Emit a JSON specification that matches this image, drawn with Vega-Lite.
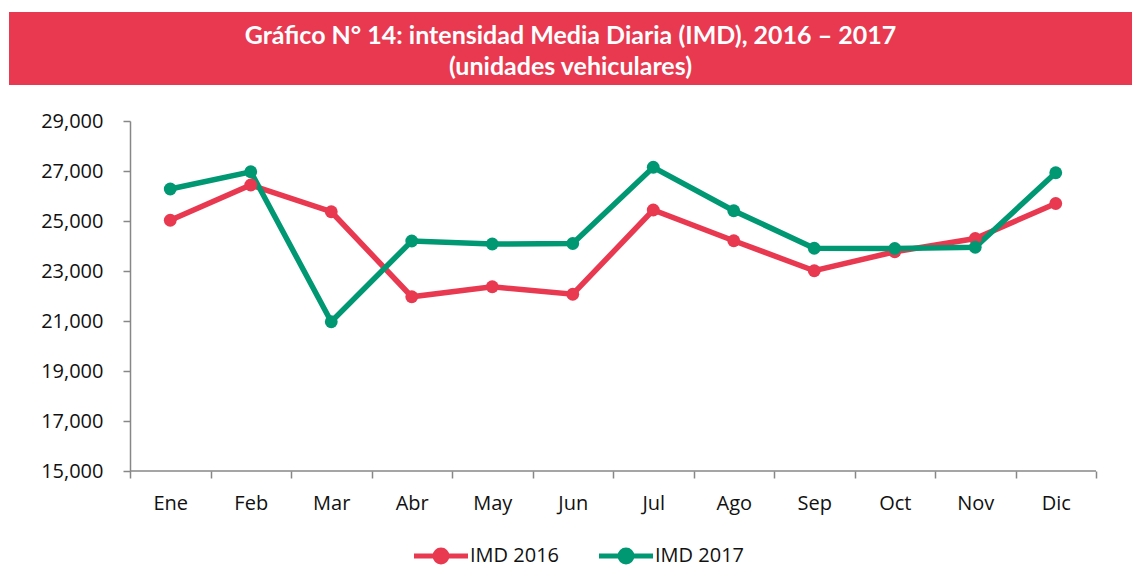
{
  "$schema": "https://vega.github.io/schema/vega-lite/v6.json",
  "padding": {"left": 9, "top": 12, "right": 0, "bottom": 0},
  "background": "white",
  "columns": 1,
  "align": "none",
  "spacing": 26,
  "config": {
    "font": "Open Sans"
  },
  "concat": [
    {
      "width": 1123,
      "height": 73,
      "view": {"fill": "#E83950", "stroke": null},
      "data": {"values": [
        {"line": 1, "text": "Gráfico N° 14: intensidad Media Diaria (IMD), 2016 – 2017"},
        {"line": 2, "text": "(unidades vehiculares)"}
      ]},
      "mark": {"type": "text", "font": "Lato", "fontWeight": "bold", "fontSize": 25, "color": "white", "baseline": "middle", "align": "center", "dy": 3},
      "encoding": {
        "y": {"field": "line", "type": "ordinal", "axis": null, "scale": {"type": "band", "paddingInner": 0, "paddingOuter": 0.18}},
        "text": {"field": "text", "type": "nominal"}
      }
    },
    {
      "width": 1087,
      "height": 350,
      "view": {"stroke": null},
      "encoding": {
        "x": {
          "field": "month", "type": "ordinal",
          "sort": ["Ene","Feb","Mar","Abr","May","Jun","Jul","Ago","Sep","Oct","Nov","Dic"],
          "scale": {"type": "band", "domain": ["Ene","Feb","Mar","Abr","May","Jun","Jul","Ago","Sep","Oct","Nov","Dic"], "paddingInner": 0, "paddingOuter": 0.7516, "align": 1},
          "axis": {
            "title": null, "labelAngle": 0, "tickBand": "extent", "domain": false,
            "tickColor": "#878787", "tickWidth": 1.5, "tickSize": 7,
            "labelFont": "Open Sans", "labelFontSize": 20, "labelColor": "#111", "labelPadding": 15, "grid": false
          }
        },
        "y": {
          "field": "value", "type": "quantitative",
          "scale": {"domain": [15000, 29000], "nice": false, "zero": false},
          "axis": {
            "title": null, "values": [15000,17000,19000,21000,23000,25000,27000,29000], "format": ",.0f",
            "offset": -121,
            "domainColor": "#878787", "domainWidth": 1.5, "tickColor": "#878787", "tickWidth": 1.5, "tickSize": 7,
            "labelFont": "Open Sans", "labelFontSize": 20, "labelColor": "#111", "labelPadding": 20, "grid": false
          }
        }
      },
      "layer": [
        {
          "data": {"values": [{"month": "Ene", "end": "Dic", "base": 15000}]},
          "mark": {"type": "rule", "color": "#878787", "strokeWidth": 1.5},
          "encoding": {
            "x": {"field": "month", "type": "ordinal", "bandPosition": 0},
            "x2": {"field": "end", "bandPosition": 1},
            "y": {"field": "base", "type": "quantitative"}
          }
        },
        {
          "data": {"values": [
            {"month": "Ene", "serie": "IMD 2016", "value": 25030},
            {"month": "Feb", "serie": "IMD 2016", "value": 26440},
            {"month": "Mar", "serie": "IMD 2016", "value": 25370},
            {"month": "Abr", "serie": "IMD 2016", "value": 21970},
            {"month": "May", "serie": "IMD 2016", "value": 22370},
            {"month": "Jun", "serie": "IMD 2016", "value": 22070},
            {"month": "Jul", "serie": "IMD 2016", "value": 25440},
            {"month": "Ago", "serie": "IMD 2016", "value": 24210},
            {"month": "Sep", "serie": "IMD 2016", "value": 23010},
            {"month": "Oct", "serie": "IMD 2016", "value": 23770},
            {"month": "Nov", "serie": "IMD 2016", "value": 24300},
            {"month": "Dic", "serie": "IMD 2016", "value": 25700},
            {"month": "Ene", "serie": "IMD 2017", "value": 26280},
            {"month": "Feb", "serie": "IMD 2017", "value": 26970},
            {"month": "Mar", "serie": "IMD 2017", "value": 20970},
            {"month": "Abr", "serie": "IMD 2017", "value": 24200},
            {"month": "May", "serie": "IMD 2017", "value": 24080},
            {"month": "Jun", "serie": "IMD 2017", "value": 24100},
            {"month": "Jul", "serie": "IMD 2017", "value": 27150},
            {"month": "Ago", "serie": "IMD 2017", "value": 25410},
            {"month": "Sep", "serie": "IMD 2017", "value": 23910},
            {"month": "Oct", "serie": "IMD 2017", "value": 23900},
            {"month": "Nov", "serie": "IMD 2017", "value": 23950},
            {"month": "Dic", "serie": "IMD 2017", "value": 26930}
          ]},
          "encoding": {
            "x": {"field": "month", "type": "ordinal", "bandPosition": 0.5},
            "color": {
              "field": "serie", "type": "nominal",
              "scale": {"domain": ["IMD 2016", "IMD 2017"], "range": ["#E83950", "#009873"]},
              "legend": {
                "title": null, "orient": "none", "direction": "horizontal",
                "legendX": 416, "legendY": 528,
                "symbolType": "M-2,0L2,0M-0.44,0A0.44,0.44,0,1,0,0.44,0A0.44,0.44,0,1,0,-0.44,0Z",
                "symbolSize": 729, "symbolStrokeWidth": 5,
                "labelFont": "Open Sans", "labelFontSize": 20, "labelColor": "#111", "labelOffset": 13,
                "columnPadding": 29,
                "encode": {"symbols": {"update": {
                  "fill": {"scale": "color", "field": "value"},
                  "stroke": {"scale": "color", "field": "value"},
                  "opacity": {"value": 1}
                }}}
              }
            }
          },
          "layer": [
            {"mark": {"type": "line", "strokeWidth": 5.5}},
            {"mark": {"type": "point", "shape": "circle", "filled": true, "opacity": 1, "size": 165}}
          ]
        }
      ]
    }
  ]
}
